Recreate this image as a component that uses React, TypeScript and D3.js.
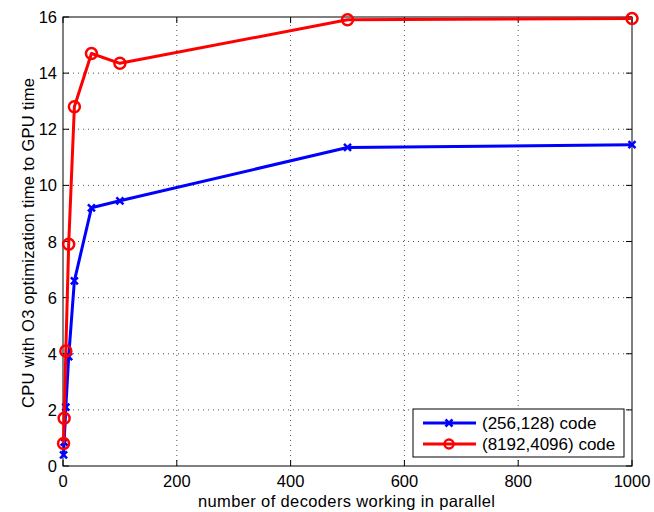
import React from "react";
import * as d3 from "d3";

// number of decoders (x) for both series
const decoders = [1, 2, 5, 10, 20, 50, 100, 500, 1000];
const speedupSmall = [0.4, 0.85, 2.1, 3.9, 6.6, 9.2, 9.45, 11.35, 11.45];
const speedupLarge = [0.8, 1.7, 4.1, 7.9, 12.8, 14.7, 14.35, 15.9, 15.95];
const seriesNames = ["(256,128) code", "(8192,4096) code"];
const xTicks = [0, 200, 400, 600, 800, 1000];
const yTicks = [0, 2, 4, 6, 8, 10, 12, 14, 16];

const W = 654;
const H = 512;
const margin = { left: 63, right: 22, top: 17, bottom: 46 };
const font = "'Liberation Sans', Arial, sans-serif";

const App = () => {
  const x = d3.scaleLinear().domain([0, 1000]).range([margin.left, W - margin.right]);
  const y = d3.scaleLinear().domain([0, 16]).range([H - margin.bottom, margin.top]);
  const line = d3
    .line<number>()
    .x((_, i) => x(decoders[i]))
    .y((d) => y(d));

  const x0 = x(0), x1 = x(1000), y0 = y(0), y1 = y(16);

  const cross = (cx: number, cy: number, key: string | number) => {
    const s = 3.5;
    return (
      <path
        key={key}
        d={`M${cx - s},${cy - s}L${cx + s},${cy + s}M${cx - s},${cy + s}L${cx + s},${cy - s}`}
        stroke="#0000ff"
        strokeWidth={2.5}
        fill="none"
      />
    );
  };

  const legX = 413, legY = 409;

  return (
    <svg width={W} height={H} style={{ position: "absolute", left: 0, top: 0 }} fontFamily={font}>
      <rect x={0} y={0} width={W} height={H} fill="#fff" />
      {/* grid */}
      {xTicks.slice(1, -1).map((t) => (
        <line key={"gx" + t} x1={x(t)} x2={x(t)} y1={y0} y2={y1} stroke="#555" strokeWidth={1} strokeDasharray="1,4" />
      ))}
      {yTicks.slice(1, -1).map((t) => (
        <line key={"gy" + t} x1={x0} x2={x1} y1={y(t)} y2={y(t)} stroke="#555" strokeWidth={1} strokeDasharray="1,4" />
      ))}
      {/* ticks, inward on all four sides */}
      {xTicks.map((t) => (
        <g key={"tx" + t}>
          <line x1={x(t)} x2={x(t)} y1={y0} y2={y0 - 6} stroke="#000" />
          <line x1={x(t)} x2={x(t)} y1={y1} y2={y1 + 6} stroke="#000" />
          <text x={x(t)} y={y0 + 21} fontSize={16.5} textAnchor="middle">{t}</text>
        </g>
      ))}
      {yTicks.map((t) => (
        <g key={"ty" + t}>
          <line x1={x0} x2={x0 + 6} y1={y(t)} y2={y(t)} stroke="#000" />
          <line x1={x1} x2={x1 - 6} y1={y(t)} y2={y(t)} stroke="#000" />
          <text x={x0 - 6} y={y(t) + 6} fontSize={16.5} textAnchor="end">{t}</text>
        </g>
      ))}
      <rect x={x0} y={y1} width={x1 - x0} height={y0 - y1} fill="none" stroke="#000" strokeWidth={1} />

      {/* series */}
      <path d={line(speedupSmall) ?? ""} fill="none" stroke="#0000ff" strokeWidth={3} strokeLinejoin="round" />
      {speedupSmall.map((v, i) => cross(x(decoders[i]), y(v), "b" + i))}
      <path d={line(speedupLarge) ?? ""} fill="none" stroke="#ff0000" strokeWidth={3} strokeLinejoin="round" />
      {speedupLarge.map((v, i) => (
        <circle key={"r" + i} cx={x(decoders[i])} cy={y(v)} r={5.5} fill="none" stroke="#ff0000" strokeWidth={2.5} />
      ))}

      {/* axis labels */}
      <text x={346.5} y={507} fontSize={16.5} textAnchor="middle" textLength={297} lengthAdjust="spacing">
        number of decoders working in parallel
      </text>
      <text
        transform={`translate(34,243) rotate(-90)`}
        fontSize={16.5}
        textAnchor="middle"
        textLength={330}
        lengthAdjust="spacing"
      >
        CPU with O3 optimization time to GPU time
      </text>

      {/* legend */}
      <rect x={legX} y={legY} width={211} height={48} fill="#fff" stroke="#000" strokeWidth={1} />
      <line x1={legX + 10} x2={legX + 63} y1={legY + 14} y2={legY + 14} stroke="#0000ff" strokeWidth={3} />
      {cross(legX + 36, legY + 14, "lb")}
      <text x={legX + 69} y={legY + 20} fontSize={17}>{seriesNames[0]}</text>
      <line x1={legX + 10} x2={legX + 63} y1={legY + 35} y2={legY + 35} stroke="#ff0000" strokeWidth={3} />
      <circle cx={legX + 36} cy={legY + 35} r={4.5} fill="none" stroke="#ff0000" strokeWidth={2.5} />
      <text x={legX + 69} y={legY + 41} fontSize={17}>{seriesNames[1]}</text>
    </svg>
  );
};

export default App;
